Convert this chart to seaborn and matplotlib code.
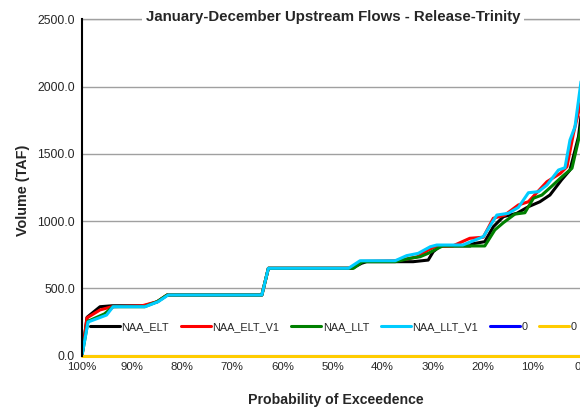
import matplotlib
matplotlib.use('Agg')
import matplotlib.pyplot as plt
import seaborn as sns

sns.set_style('white')
plt.rcParams['font.family'] = ['Liberation Sans', 'DejaVu Sans']

# probability of exceedance (%) and volume (TAF) per series
elt_p = [100, 99, 96.4, 94, 87.5, 85, 83, 64.1, 62.8, 46.1, 44.2, 43.2, 33.9, 30.9, 29.9, 28.5,
         22.5, 22.2, 19.6, 17.9, 15.9, 13.2, 10.9, 8.6, 6.6, 4.3, 2.6, 0.9, 0]
elt_v = [0, 284, 363, 370, 370, 400, 450, 450, 649, 649, 686, 698, 698, 710, 772, 815,
         815, 830, 847, 958, 1033, 1058, 1107, 1144, 1194, 1306, 1380, 1628, 1900]

elt_v1_p = [100, 99, 96.4, 94, 88, 85, 83, 64.1, 62.8, 46.5, 44.3, 37.5, 35.2, 33, 30.9, 29.5,
            26, 22.6, 19.9, 17.9, 15.6, 12.9, 10.9, 7.2, 4.5, 3.2, 1.9, 0]
elt_v1_v = [0, 280, 339, 363, 370, 400, 450, 450, 649, 649, 700, 705, 718, 735, 785, 810,
            815, 872, 880, 1021, 1045, 1120, 1144, 1293, 1356, 1405, 1653, 1950]

llt_p = [100, 98.8, 95.5, 93.8, 87.5, 85, 83, 64.1, 62.8, 45.8, 44, 37.5, 34.5, 32.5, 30.9, 29,
         28, 19.6, 17.6, 15.9, 13.6, 11.6, 9.9, 8.2, 6.2, 4.2, 2.2, 0.6, 0]
llt_v = [0, 255, 310, 363, 363, 400, 450, 450, 649, 649, 698, 698, 723, 735, 760, 797,
         815, 815, 934, 988, 1052, 1062, 1170, 1194, 1261, 1330, 1393, 1653, 1800]

llt_v1_p = [100, 98.8, 95.1, 93.8, 87.4, 84.8, 82.8, 64.1, 62.8, 46.8, 44.5, 37.5, 35.2, 32.9,
            30.5, 29.2, 24, 19.9, 17.2, 14.9, 12.9, 10.9, 8.9, 7.2, 4.9, 3.6, 2.6, 1.6, 0]
llt_v1_v = [0, 249, 301, 363, 363, 400, 450, 450, 649, 649, 705, 705, 743, 760,
            809, 822, 822, 884, 1045, 1058, 1102, 1211, 1219, 1268, 1380, 1397, 1603, 1702, 2150]

zero_p = [100, 0]
zero_v = [0, 0]

series = [
    ('NAA_ELT', elt_p, elt_v, '#000000'),
    ('NAA_ELT_V1', elt_v1_p, elt_v1_v, '#FF0000'),
    ('NAA_LLT', llt_p, llt_v, '#008000'),
    ('NAA_LLT_V1', llt_v1_p, llt_v1_v, '#00CCFF'),
    ('0', zero_p, zero_v, '#0000FF'),
    ('0', zero_p, zero_v, '#FFCC00'),
]

fig = plt.figure(figsize=(5.8, 4.09), dpi=100)
ax = fig.add_axes([82 / 580, 53.5 / 409, 501 / 580, 336 / 409])

for name, p, v, c in series:
    sns.lineplot(x=p, y=v, ax=ax, color=c, lw=2.2, label=name, estimator=None,
                 clip_on=False if c == '#FFCC00' else True)

ax.set_xlim(100, 0)
ax.set_ylim(0, 2500)
ax.set_xticks(range(100, -1, -10))
ax.set_xticklabels([f'{t}%' for t in range(100, -1, -10)], fontsize=8.2)
ax.set_yticks(range(0, 2501, 500))
ax.set_yticklabels([f'{t:.1f}' for t in range(0, 2501, 500)], fontsize=8.8)
ax.tick_params(axis='both', direction='out', length=3, color='#808080', pad=2)
ax.yaxis.grid(True, color='#A0A0A0', lw=1)
ax.xaxis.grid(False)
# top gridline sits on the axes edge, keep it whole
ax.axhline(2500, color='#A0A0A0', lw=1, clip_on=False, zorder=0.5)
for s in ['top', 'right', 'bottom']:
    ax.spines[s].set_visible(False)
ax.spines['left'].set_color('black')
ax.spines['left'].set_linewidth(1.5)

ax.set_xlabel('Probability of Exceedence', fontsize=10.2, fontweight='bold', va='center')
ax.xaxis.set_label_coords((336 - 82) / 501, (355.5 - 400) / 336)
ax.set_ylabel('Volume (TAF)', fontsize=10.4, fontweight='bold', va='center')
ax.yaxis.set_label_coords((23 - 82) / 501, (355.5 - 190) / 336)

ax.legend(loc='center left', bbox_to_anchor=(0.016, 0.085), ncol=6, frameon=False,
          fontsize=7.8, handlelength=2.75, handletextpad=0.15, columnspacing=1.1,
          borderaxespad=0, borderpad=0)

fig.text(333 / 580, 1 - 17 / 409, 'January-December Upstream Flows - Release-Trinity',
         ha='center', va='center', fontsize=10.8, fontweight='bold',
         bbox=dict(facecolor='white', edgecolor='none', pad=3))

fig.savefig('out.png', dpi=100)
